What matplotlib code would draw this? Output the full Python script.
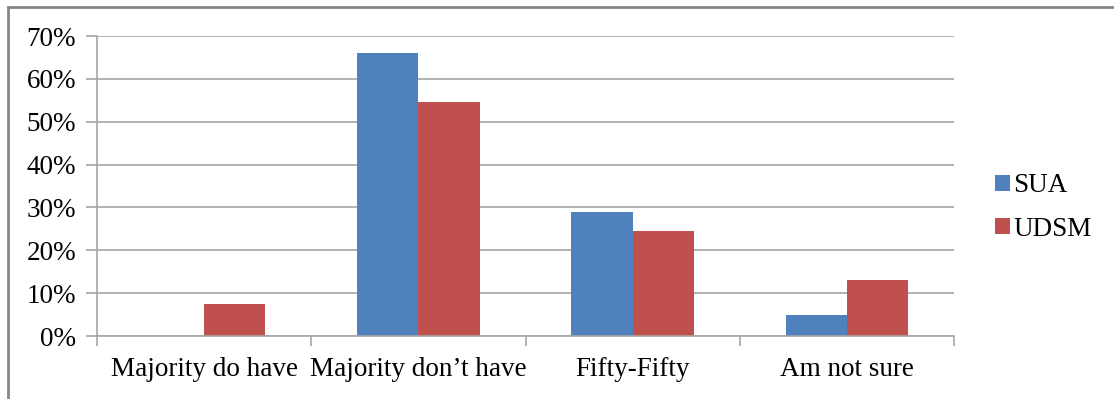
import numpy as np
import matplotlib.pyplot as plt
from matplotlib.patches import Rectangle
from matplotlib.ticker import PercentFormatter

categories = ["Majority do have", "Majority don\u2019t have", "Fifty-Fifty", "Am not sure"]
sua = [0.0, 66.0, 29.0, 5.0]
udsm = [7.4, 54.5, 24.4, 13.1]
series_names = ["SUA", "UDSM"]

blue = "#4f81bd"
red = "#c0504d"
grid_col = "#a6a6a6"
fs = 19.5

plt.rcParams["font.family"] = ["Liberation Serif", "DejaVu Serif"]

fig = plt.figure(figsize=(11.14, 3.99), dpi=100)
ax = fig.add_axes([97 / 1114, 1 - 336 / 399, (954 - 97) / 1114, 300 / 399])

x = np.arange(len(categories))
w = 1 / 3.5
ax.bar(x - w / 2, sua, w, color=blue, label=series_names[0], zorder=3)
ax.bar(x + w / 2, udsm, w, color=red, label=series_names[1], zorder=3)

ax.set_xlim(-0.5, len(categories) - 0.5)
ax.set_ylim(0, 70)
ax.set_yticks(np.arange(0, 71, 10))
ax.yaxis.set_major_formatter(PercentFormatter(decimals=0))
ax.yaxis.grid(True, color=grid_col, linewidth=1.2, zorder=0)

# category labels sit between the boundary ticks
ax.set_xticks(np.arange(-0.5, len(categories), 1.0))
ax.set_xticklabels([])
ax.set_xticks(x, minor=True)
ax.set_xticklabels(categories, minor=True)
ax.tick_params(axis="x", which="minor", length=0, pad=15, labelsize=fs)
ax.tick_params(axis="x", which="major", length=7, color=grid_col, width=1.2)
ax.tick_params(axis="y", length=8, color=grid_col, width=1.2, labelsize=fs, pad=7)

for s in ["top", "right"]:
    ax.spines[s].set_visible(False)
for s in ["left", "bottom"]:
    ax.spines[s].set_color(grid_col)
    ax.spines[s].set_linewidth(1.2)
    ax.spines[s].set_zorder(4)

leg = fig.legend(loc="upper left", bbox_to_anchor=(971 / 1114, 1 - 149 / 399),
                 frameon=False, fontsize=fs, handlelength=0.55, handleheight=0.55,
                 handletextpad=0.1, labelspacing=0.68)

# chart area border (top and left edges visible)
fig.patches.append(Rectangle((8 / 1114, -0.05), 1.2, 1 - 7 / 399 + 0.05,
                             transform=fig.transFigure, fill=False,
                             edgecolor="#868686", linewidth=2))

fig.savefig("out.png", dpi=100, facecolor="white")
